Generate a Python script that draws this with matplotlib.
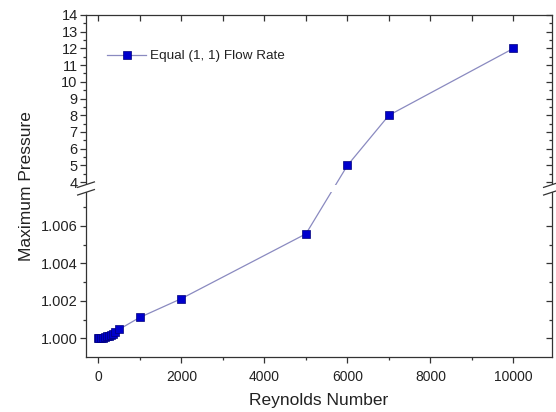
import numpy as np
import matplotlib
matplotlib.use("Agg")
import matplotlib.pyplot as plt
from matplotlib.patches import Rectangle

plt.rcParams['font.family'] = ['Liberation Sans', 'DejaVu Sans']

# Data
reynolds = [0, 10, 50, 100, 150, 200, 250, 300, 350, 400, 500, 1000, 2000, 5000, 6000, 7000, 10000]
pressure = [1.0, 1.000005, 1.00002, 1.00004, 1.00007, 1.0001, 1.00014, 1.00018, 1.00023, 1.00031,
            1.00048, 1.00112, 1.00212, 1.00558, 5.0, 8.0, 12.0]
series_label = "Equal (1, 1) Flow Rate"

y_major = [1.000, 1.002, 1.004, 1.006, 4, 5, 6, 7, 8, 9, 10, 11, 12, 13, 14]
y_major_labels = ["1.000", "1.002", "1.004", "1.006", "4", "5", "6", "7", "8", "9",
                  "10", "11", "12", "13", "14"]
y_minor = [1.001, 1.003, 1.005, 1.007] + [v + 0.5 for v in range(4, 14)]
x_major = [0, 2000, 4000, 6000, 8000, 10000]
x_minor = [1000, 3000, 5000, 7000, 9000]

# broken y axis: low band 0.999-1.0078, high band 3.85-14
brk_lo, brk_hi = 1.0078, 3.85
y_anchor = np.array([0.9, brk_lo, brk_hi, 100.0])
t_anchor = np.array([(0.9 - 1.0) * 18700, (brk_lo - 1.0) * 18700,
                     156 + (brk_hi - 4) * 16.7, 156 + 96 * 16.7])


def fwd(y):
    return np.interp(y, y_anchor, t_anchor)


def inv(t):
    return np.interp(t, t_anchor, y_anchor)


ylim = (0.999, 14.0)
xlim = (-300, 10930)
axis_col = '#333333'
text_col = '#222222'

fig = plt.figure(figsize=(5.56, 4.12), dpi=100)
ax = fig.add_axes([0.1547, 0.1335, 0.8381, 0.8301])
ax.set_yscale('function', functions=(fwd, inv))
ax.plot(reynolds, pressure, color='#8a8ac0', lw=0.9, marker='s', ms=5.3,
        mfc='#0000cc', mec='#00007a', mew=0.5, label=series_label)
ax.set_xlim(*xlim)
ax.set_ylim(*ylim)

ax.set_yticks(y_major)
ax.set_yticklabels(y_major_labels)
ax.set_yticks(y_minor, minor=True)
ax.set_xticks(x_major)
ax.set_xticks(x_minor, minor=True)
ax.tick_params(which='both', direction='out', colors=axis_col,
               labelcolor=text_col, width=0.9)
ax.tick_params(which='major', length=4.5)
ax.tick_params(which='minor', length=2.5)
ax.tick_params(axis='y', labelsize=10.5, pad=1.5)
ax.tick_params(axis='x', labelsize=10, pad=5)
for s in ax.spines.values():
    s.set_color(axis_col)
    s.set_linewidth(0.9)

ax.set_xlabel("Reynolds Number", fontsize=12.5, color=text_col, labelpad=6)
ax.set_ylabel("Maximum Pressure", fontsize=12.5, color=text_col, labelpad=5)

ax.legend(loc='center left', bbox_to_anchor=(0.045, 0.88), frameon=False,
          borderpad=0, borderaxespad=0, handlelength=2.9, handletextpad=0.3,
          fontsize=9.7, labelcolor=text_col)

# inward ticks on the right and top
axr = ax.twinx()
axr.set_yscale('function', functions=(fwd, inv))
axr.set_ylim(*ylim)
axr.set_yticks(y_major)
axr.set_yticks(y_minor, minor=True)
axr.tick_params(which='both', direction='in', colors=axis_col, labelright=False, width=0.9)
axr.tick_params(which='major', length=4.5)
axr.tick_params(which='minor', length=2.5)
for s in axr.spines.values():
    s.set_visible(False)

axt = ax.twiny()
axt.set_xlim(*xlim)
axt.set_xticks(x_major)
axt.set_xticks(x_minor, minor=True)
axt.tick_params(which='both', direction='in', colors=axis_col, labeltop=False,
                width=0.9, length=4)
for s in axt.spines.values():
    s.set_visible(False)

# gap in spines and line at the axis break, then the slashes
t_lo, t_hi = fwd(np.array(ylim))
f_lo = (fwd(brk_lo) - t_lo) / (t_hi - t_lo)
f_hi = (fwd(brk_hi) - t_lo) / (t_hi - t_lo)
axt.add_patch(Rectangle((-0.004, f_lo), 1.008, f_hi - f_lo, transform=axt.transAxes,
                        facecolor='white', edgecolor='none', clip_on=False, zorder=5))
dx, dy = 0.018, 0.008
for xs in (0.0, 1.0):
    for fy in (f_lo, f_hi):
        axt.plot([xs - dx, xs + dx], [fy - dy, fy + dy], transform=axt.transAxes,
                 color=axis_col, lw=0.9, clip_on=False, zorder=6)

fig.savefig("out.png", dpi=100)
